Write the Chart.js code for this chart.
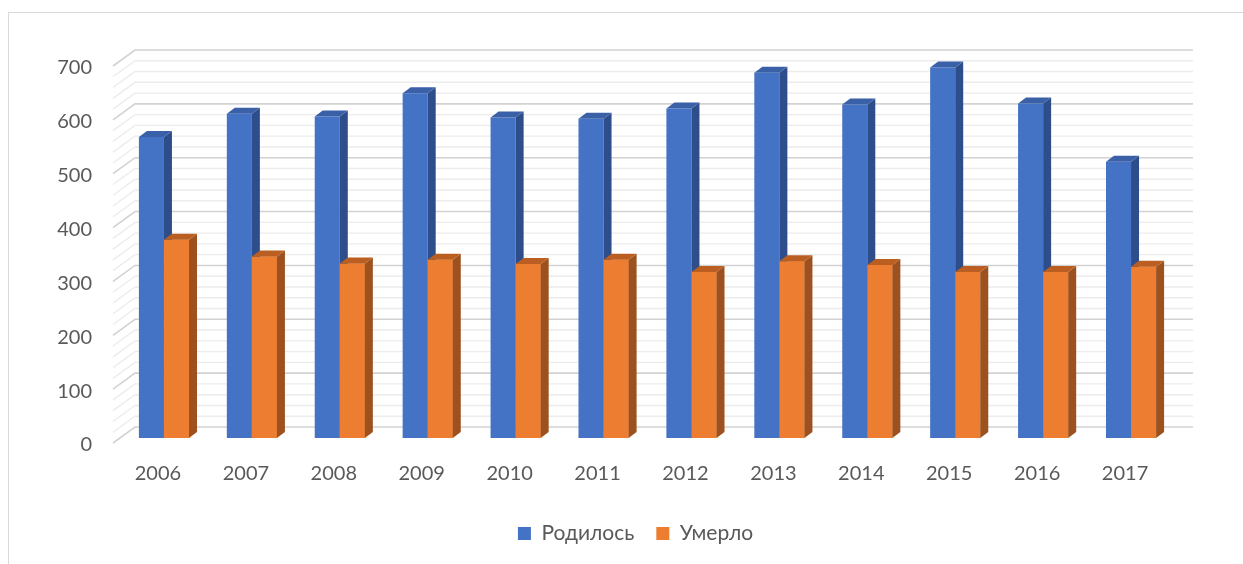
<!DOCTYPE html>
<html>
<head>
<meta charset="utf-8">
<script src="https://cdn.jsdelivr.net/npm/chart.js@4/dist/chart.umd.min.js"></script>
<style>
  html, body { margin: 0; padding: 0; background: #ffffff; overflow: hidden; }
  #frame { position: absolute; left: 8px; top: 12px; width: 1300px; height: 600px; border: 1px solid #d9d9d9; box-sizing: border-box; }
  #c { position: absolute; left: 0; top: 0; }
</style>
</head>
<body>
<div id="frame"></div>
<canvas id="c" width="1243" height="564"></canvas>
<script>
const categories = ['2006','2007','2008','2009','2010','2011','2012','2013','2014','2015','2016','2017'];
const born = [559, 602, 597, 640, 595, 593, 612, 678, 619, 688, 621, 513];
const died = [368, 337, 324, 331, 323, 331, 308, 328, 321, 308, 308, 318];
const seriesNames = ['Родилось', 'Умерло'];
const yMin = 0, yMax = 700, yStep = 100, yMinorStep = 20;

const FONT = 'Lato, "Open Sans", sans-serif';
const TEXT = '#595959';
const DX = 8, DY = -6;
const faceColors = [
  { front: '#4472c4', side: '#2d4e8a', top: '#3a60a8' },
  { front: '#ed7d31', side: '#9c511e', top: '#bb5e21' }
];

function drawFaces(ctx, el, col) {
  const w = el.width, x0 = el.x - w / 2, x1 = el.x + w / 2;
  const top = el.y, base = el.base;
  ctx.fillStyle = col.side;
  ctx.beginPath();
  ctx.moveTo(x1, top);
  ctx.lineTo(x1 + DX, top + DY);
  ctx.lineTo(x1 + DX, base + DY);
  ctx.lineTo(x1, base);
  ctx.closePath();
  ctx.fill();
  ctx.fillStyle = col.top;
  ctx.beginPath();
  ctx.moveTo(x0, top);
  ctx.lineTo(x0 + DX, top + DY);
  ctx.lineTo(x1 + DX, top + DY);
  ctx.lineTo(x1, top);
  ctx.closePath();
  ctx.fill();
}

const wallPlugin = {
  id: 'wall',
  afterLayout(chart) {
    // centre the legend under the whole frame rather than the padded area
    if (chart.legend) {
      chart.legend.left += 48;
      chart.legend.right += 48;
    }
  },
  beforeDatasetsDraw(chart) {
    const { ctx, chartArea, scales } = chart;
    const y = scales.y;
    const left = chartArea.left, right = chartArea.right;
    ctx.save();
    for (let v = yMin; v <= yMax + 0.001; v += yMinorStep) {
      const p = y.getPixelForValue(v);
      const major = Math.abs(v % yStep) < 0.001;
      ctx.strokeStyle = major ? '#d2d2d2' : '#ececec';
      ctx.lineWidth = major ? 1.6 : 1.4;
      ctx.beginPath();
      ctx.moveTo(left - 7, p + 5);
      ctx.lineTo(left + 15, p - 11);
      ctx.lineTo(right + 18, p - 11);
      ctx.stroke();
    }
    ctx.restore();
  },
  afterDatasetsDraw(chart) {
    const { ctx } = chart;
    ctx.save();
    chart.getDatasetMeta(0).data.forEach(el => drawFaces(ctx, el, faceColors[0]));
    chart.getDatasetMeta(1).data.forEach(el => {
      el.draw(ctx);
      drawFaces(ctx, el, faceColors[1]);
    });
    ctx.restore();
  }
};

new Chart(document.getElementById('c'), {
  type: 'bar',
  data: {
    labels: categories,
    datasets: [
      { label: seriesNames[0], data: born, backgroundColor: faceColors[0].front,
        categoryPercentage: 0.57, barPercentage: 1.0 },
      { label: seriesNames[1], data: died, backgroundColor: faceColors[1].front,
        categoryPercentage: 0.57, barPercentage: 1.0 }
    ]
  },
  options: {
    responsive: false,
    animation: false,
    devicePixelRatio: 1,
    layout: { padding: { left: 0, right: 68, top: 61, bottom: 10 } },
    scales: {
      x: {
        afterFit(scale) { scale.height = 63; },
        grid: { display: false, drawTicks: false },
        border: { display: false },
        ticks: { color: TEXT, font: { family: FONT, size: 20 }, padding: 24, labelOffset: -6 }
      },
      y: {
        min: yMin, max: yMax,
        afterFit(scale) { scale.width = 120; },
        grid: { display: false, drawTicks: false },
        border: { display: false },
        ticks: { stepSize: yStep, color: TEXT, font: { family: FONT, size: 20 }, padding: 28, labelOffset: 7 }
      }
    },
    plugins: {
      legend: {
        position: 'bottom',
        labels: { color: TEXT, font: { family: FONT, size: 21 }, boxWidth: 13, boxHeight: 13, padding: 22 }
      },
      tooltip: { enabled: false }
    }
  },
  plugins: [wallPlugin]
});
</script>
</body>
</html>
